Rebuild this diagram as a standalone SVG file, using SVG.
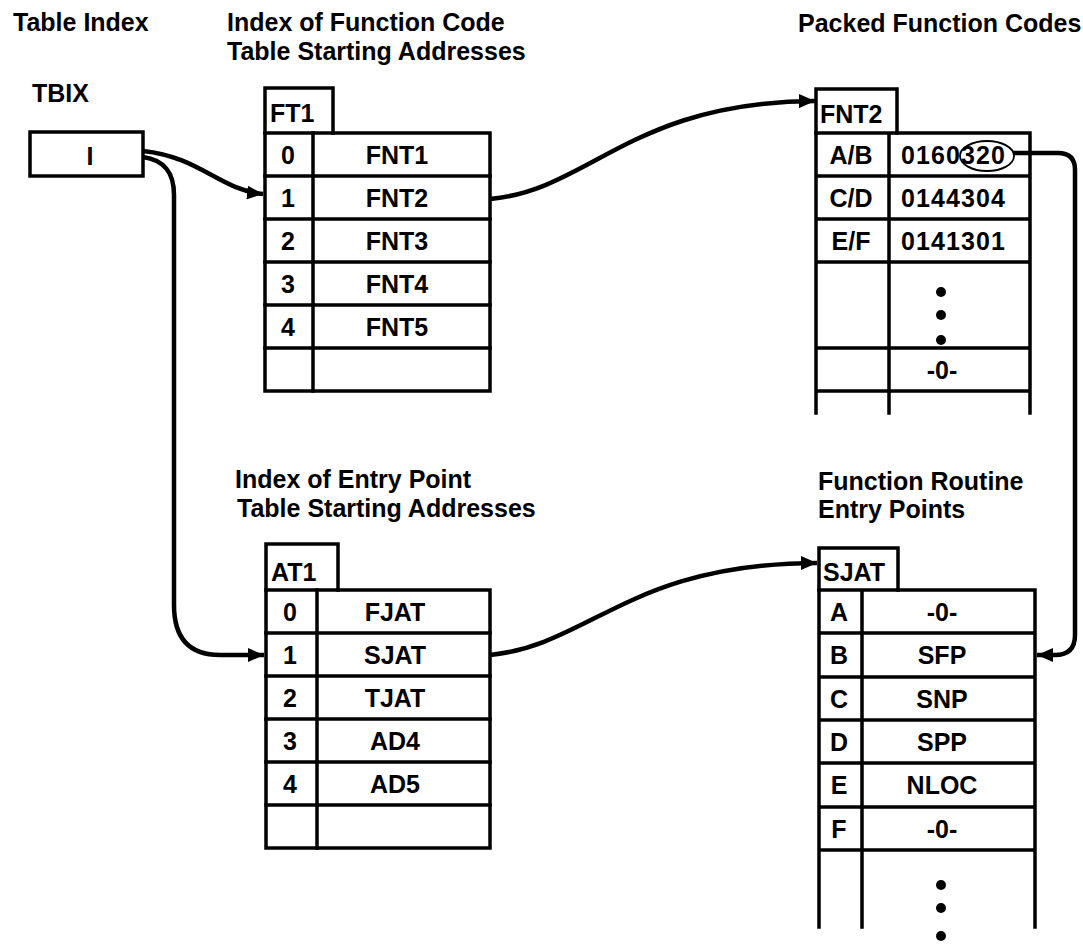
<svg xmlns="http://www.w3.org/2000/svg" width="1083" height="944" viewBox="0 0 1083 944">
<style>
.t{font-family:"Liberation Sans",Arial,sans-serif;font-weight:bold;font-size:25px;fill:#000}
.c{text-anchor:middle}
.ln{stroke:#000;stroke-width:3.5;fill:none;stroke-linecap:square}
.conn{stroke:#000;stroke-width:4.5;fill:none;marker-end:url(#ah)}
.dot{fill:#000}
</style>
<defs>
<marker id="ah" markerUnits="userSpaceOnUse" markerWidth="18" markerHeight="14" refX="16" refY="7" orient="auto">
<path d="M0,0 L16,7 L0,14 z" fill="#000"/>
</marker>
</defs>
<rect width="1083" height="944" fill="#fff"/>

<g id="titles">
<text class="t" x="13" y="31">Table Index</text>
<text class="t" x="227" y="31">Index of Function Code</text>
<text class="t" x="227" y="60">Table Starting Addresses</text>
<text class="t" x="798" y="32">Packed Function Codes</text>
<text class="t" x="235" y="488">Index of Entry Point</text>
<text class="t" x="237" y="517">Table Starting Addresses</text>
<text class="t" x="818" y="490">Function Routine</text>
<text class="t" x="818" y="518">Entry Points</text>
</g>

<g id="tbix">
<text class="t" x="32" y="102">TBIX</text>
<rect class="ln" x="30" y="132" width="113" height="44"/>
<text class="t c" x="90" y="165">I</text>
</g>

<g id="ft1">
<path class="ln" d="M265,133 L265,88 L333,88 L333,133"/>
<rect class="ln" x="265" y="133" width="225" height="258"/>
<path class="ln" d="M313,133 L313,391 M265,176 L490,176 M265,219 L490,219 M265,262 L490,262 M265,305 L490,305 M265,348 L490,348"/>
<text class="t" x="270" y="122">FT1</text>
<text class="t c" x="288" y="164">0</text><text class="t c" x="397" y="164">FNT1</text>
<text class="t c" x="288" y="207">1</text><text class="t c" x="397" y="207">FNT2</text>
<text class="t c" x="288" y="250">2</text><text class="t c" x="397" y="250">FNT3</text>
<text class="t c" x="288" y="293">3</text><text class="t c" x="397" y="293">FNT4</text>
<text class="t c" x="288" y="336">4</text><text class="t c" x="397" y="336">FNT5</text>
</g>

<g id="fnt2">
<path class="ln" d="M816,133 L816,89 L897,89 L897,133"/>
<path class="ln" d="M816,133 L1030,133 M816,133 L816,413 M889,133 L889,413 M1030,133 L1030,413 M816,176 L1030,176 M816,219 L1030,219 M816,262 L1030,262 M816,348 L1030,348 M816,391 L1030,391"/>
<text class="t" x="820" y="123">FNT2</text>
<text class="t c" x="851" y="164">A/B</text><text class="t" x="901" y="164" textLength="104">0160320</text>
<text class="t c" x="851" y="207">C/D</text><text class="t" x="901" y="207" textLength="104">0144304</text>
<text class="t c" x="851" y="250">E/F</text><text class="t" x="901" y="250" textLength="104">0141301</text>
<ellipse cx="987" cy="156" rx="27" ry="15" fill="none" stroke="#000" stroke-width="1.8"/>
<circle class="dot" cx="941" cy="292" r="5"/>
<circle class="dot" cx="941" cy="315" r="5"/>
<circle class="dot" cx="941" cy="340" r="5"/>
<text class="t c" x="942" y="379">-0-</text>
</g>

<g id="at1">
<path class="ln" d="M266,590 L266,544 L338,544 L338,590"/>
<rect class="ln" x="266" y="590" width="224" height="258"/>
<path class="ln" d="M317,590 L317,848 M266,633 L490,633 M266,676 L490,676 M266,719 L490,719 M266,762 L490,762 M266,805 L490,805"/>
<text class="t" x="271" y="581">AT1</text>
<text class="t c" x="290" y="621">0</text><text class="t c" x="395" y="621">FJAT</text>
<text class="t c" x="290" y="664">1</text><text class="t c" x="395" y="664">SJAT</text>
<text class="t c" x="290" y="707">2</text><text class="t c" x="395" y="707">TJAT</text>
<text class="t c" x="290" y="750">3</text><text class="t c" x="395" y="750">AD4</text>
<text class="t c" x="290" y="793">4</text><text class="t c" x="395" y="793">AD5</text>
</g>

<g id="sjat">
<path class="ln" d="M819,590 L819,548 L898,548 L898,590"/>
<path class="ln" d="M819,590 L1035,590 M819,590 L819,927 M862,590 L862,927 M1035,590 L1035,927 M819,633 L1035,633 M819,677 L1035,677 M819,720 L1035,720 M819,763 L1035,763 M819,807 L1035,807 M819,850 L1035,850"/>
<text class="t" x="823" y="581">SJAT</text>
<text class="t c" x="839" y="621">A</text><text class="t c" x="942" y="621">-0-</text>
<text class="t c" x="839" y="664">B</text><text class="t c" x="942" y="664">SFP</text>
<text class="t c" x="839" y="708">C</text><text class="t c" x="942" y="708">SNP</text>
<text class="t c" x="839" y="751">D</text><text class="t c" x="942" y="751">SPP</text>
<text class="t c" x="839" y="794">E</text><text class="t c" x="942" y="794">NLOC</text>
<text class="t c" x="839" y="838">F</text><text class="t c" x="942" y="838">-0-</text>
<circle class="dot" cx="941" cy="885" r="5"/>
<circle class="dot" cx="941" cy="908" r="5"/>
<circle class="dot" cx="941" cy="936" r="5"/>
</g>

<g id="connectors">
<path class="conn" d="M143,151 C200,157 220,190 263,194"/>
<path class="conn" d="M143,157 C164,160 174,172 174,195 L174,605 Q174,655 220,655 L264,655"/>
<path class="conn" d="M490,199 C590,190 630,102 815,101"/>
<path class="conn" d="M490,655 C590,645 630,563 817,563"/>
<path class="conn" d="M1013,153 L1058,153 Q1075,153 1075,170 L1075,635 Q1075,655 1055,655 L1037,655"/>
</g>
</svg>
